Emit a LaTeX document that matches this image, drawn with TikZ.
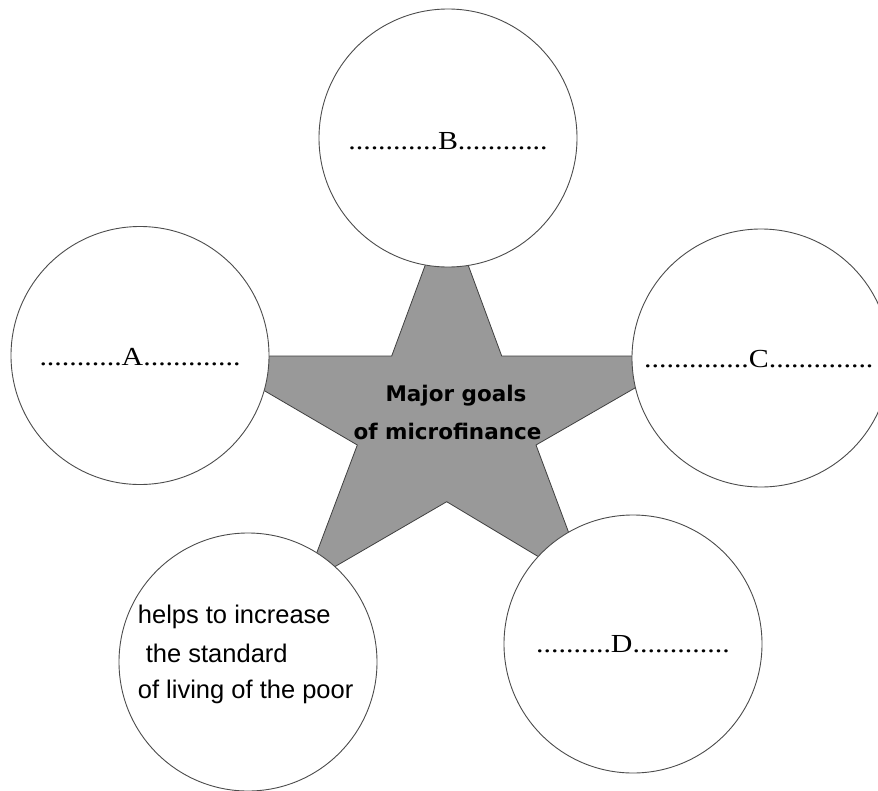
\documentclass[tikz,border=0pt]{standalone}
\usepackage{fontspec}
\setmainfont{Liberation Serif}
\newfontfamily\labsans{Liberation Sans}
\newfontfamily\goalsans{DejaVu Sans}
\newcommand{\stretchlab}[1]{\scalebox{1.15}[1]{#1}}
\begin{document}
\begin{tikzpicture}[x=1pt,y=-1pt,
  goalcirc/.style={circle,draw=black!70,line width=0.9pt,fill=white,minimum size=258pt,inner sep=0pt},
  starshape/.style={fill=black!40,draw=black!75,line width=0.8pt,line join=miter},
  dotlabel/.style={anchor=base,inner sep=0pt,font=\fontsize{26}{30}\selectfont},
  bodytext/.style={anchor=base west,inner sep=0pt,font=\labsans\fontsize{25.5}{30}\selectfont},
  goaltext/.style={anchor=base,inner sep=0pt,font=\goalsans\bfseries\fontsize{21.5}{25}\selectfont}]
\useasboundingbox (0,0) rectangle (878,790);
\fill[white] (0,0) rectangle (878,790);
% star
\draw[starshape] (446.7,207) -- (501.7,356) -- (690.5,356) -- (536,445) -- (589,587)
  -- (446.7,501.7) -- (305,584) -- (357.3,445) -- (205,356) -- (391.7,356) -- cycle;
% circles
\node[goalcirc] (B) at (448,138) {};
\node[goalcirc] (A) at (140,355.5) {};
\node[goalcirc] (C) at (761,358) {};
\node[goalcirc] (D) at (633,644) {};
\node[goalcirc] (E) at (248,662) {};
% labels
\node[dotlabel] (labB) at (448,149) {\stretchlab{............B............}};
\node[dotlabel] (labA) at (140,365) {\stretchlab{...........A.............}};
\node[dotlabel,anchor=base west] (labC) at (644,367) {\stretchlab{..............C..............}};
\node[dotlabel] (labD) at (633,652) {\stretchlab{..........D.............}};
\node[bodytext] (e1) at (137.7,623) {helps to increase};
\node[bodytext] (e2) at (145.7,662) {the standard};
\node[bodytext] (e3) at (137.7,698) {of living of the poor};
\node[goaltext] (g1) at (456,401) {Major goals};
\node[goaltext] (g2) at (447.5,439) {of microfinance};
\end{tikzpicture}
\end{document}
